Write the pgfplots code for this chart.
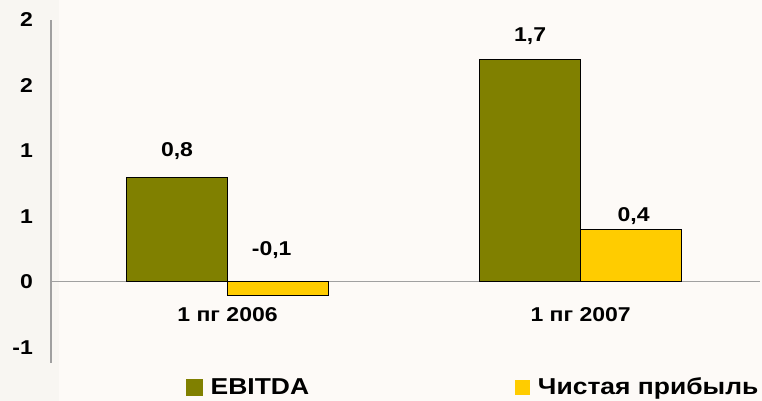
\documentclass[border=0pt]{standalone}
\usepackage{fontspec}
\setmainfont{Liberation Sans}[FakeStretch=1.15]
\usepackage{pgfplots}
\pgfplotsset{compat=1.18}
\definecolor{olivebar}{HTML}{808000}
\definecolor{yellowbar}{HTML}{FFCC00}
\definecolor{bgmain}{HTML}{FDFAF7}
\definecolor{bgleft}{HTML}{F8F6F2}
\definecolor{axgray}{HTML}{A0A0A0}

\begin{document}
\begin{tikzpicture}[font=\bfseries]
\fill[bgmain] (0,0) rectangle (762pt,401pt);
\fill[bgleft] (0,0) rectangle (59pt,401pt);
\path[use as bounding box] (0,0) rectangle (762pt,401pt);
\begin{axis}[
  at={(51pt,38pt)}, anchor=south west,
  scale only axis,
  width=709pt, height=343pt,
  xmin=-0.5, xmax=1.508,
  ymin=-0.62, ymax=2.0,
  axis x line=middle,
  axis y line=left,
  axis line style={-, draw=axgray, line width=1.2pt},
  major tick length=0pt,
  xtick={0,1},
  xticklabels={1 пг 2006, 1 пг 2007},
  xticklabel style={anchor=base, yshift=-40pt, inner sep=0pt,
    font=\fontsize{20}{24}\selectfont\bfseries},
  ytick={-0.5,0,0.5,1,1.5,2},
  yticklabels={-1,0,1,1,2,2},
  yticklabel style={anchor=east, xshift=-18pt, inner sep=0pt,
    font=\fontsize{20}{24}\selectfont\bfseries},
  legend columns=2,
  legend style={at={(axis description cs:0.19,-0.07)}, anchor=west,
    draw=none, fill=none, inner sep=0pt,
    nodes={inner sep=0pt},
    font=\fontsize{23}{27}\selectfont\bfseries,
    /tikz/every odd column/.append style={column sep=8pt},
    /tikz/every even column/.append style={column sep=206pt}},
  every node near coord/.append style={anchor=base, inner sep=0pt,
    font=\fontsize{20}{24}\selectfont\bfseries, text=black},
]
\addplot[ybar, bar width=101pt, bar shift=-50.5pt, fill=olivebar, draw=black, line width=0.8pt,
  legend image code/.code={\fill[olivebar] (0pt,-8pt) rectangle (16pt,8pt);}]
  coordinates {(0,0.8) (1,1.7)};
\addlegendentry{EBITDA}
\addplot[ybar, bar width=101pt, bar shift=50.5pt, fill=yellowbar, draw=black, line width=0.8pt,
  legend image code/.code={\fill[yellowbar] (0pt,-7pt) rectangle (14pt,7pt);}]
  coordinates {(0,-0.1) (1,0.4)};
\addlegendentry{Чистая прибыль}
% value labels
\addplot[draw=none, mark=none, forget plot, nodes near coords, point meta=explicit symbolic]
  coordinates {(-0.143,0.954)[0,8] (0.125,0.198)[-0,1] (0.857,1.832)[1,7] (1.15,0.458)[0,4]};
\end{axis}
\end{tikzpicture}
\end{document}
